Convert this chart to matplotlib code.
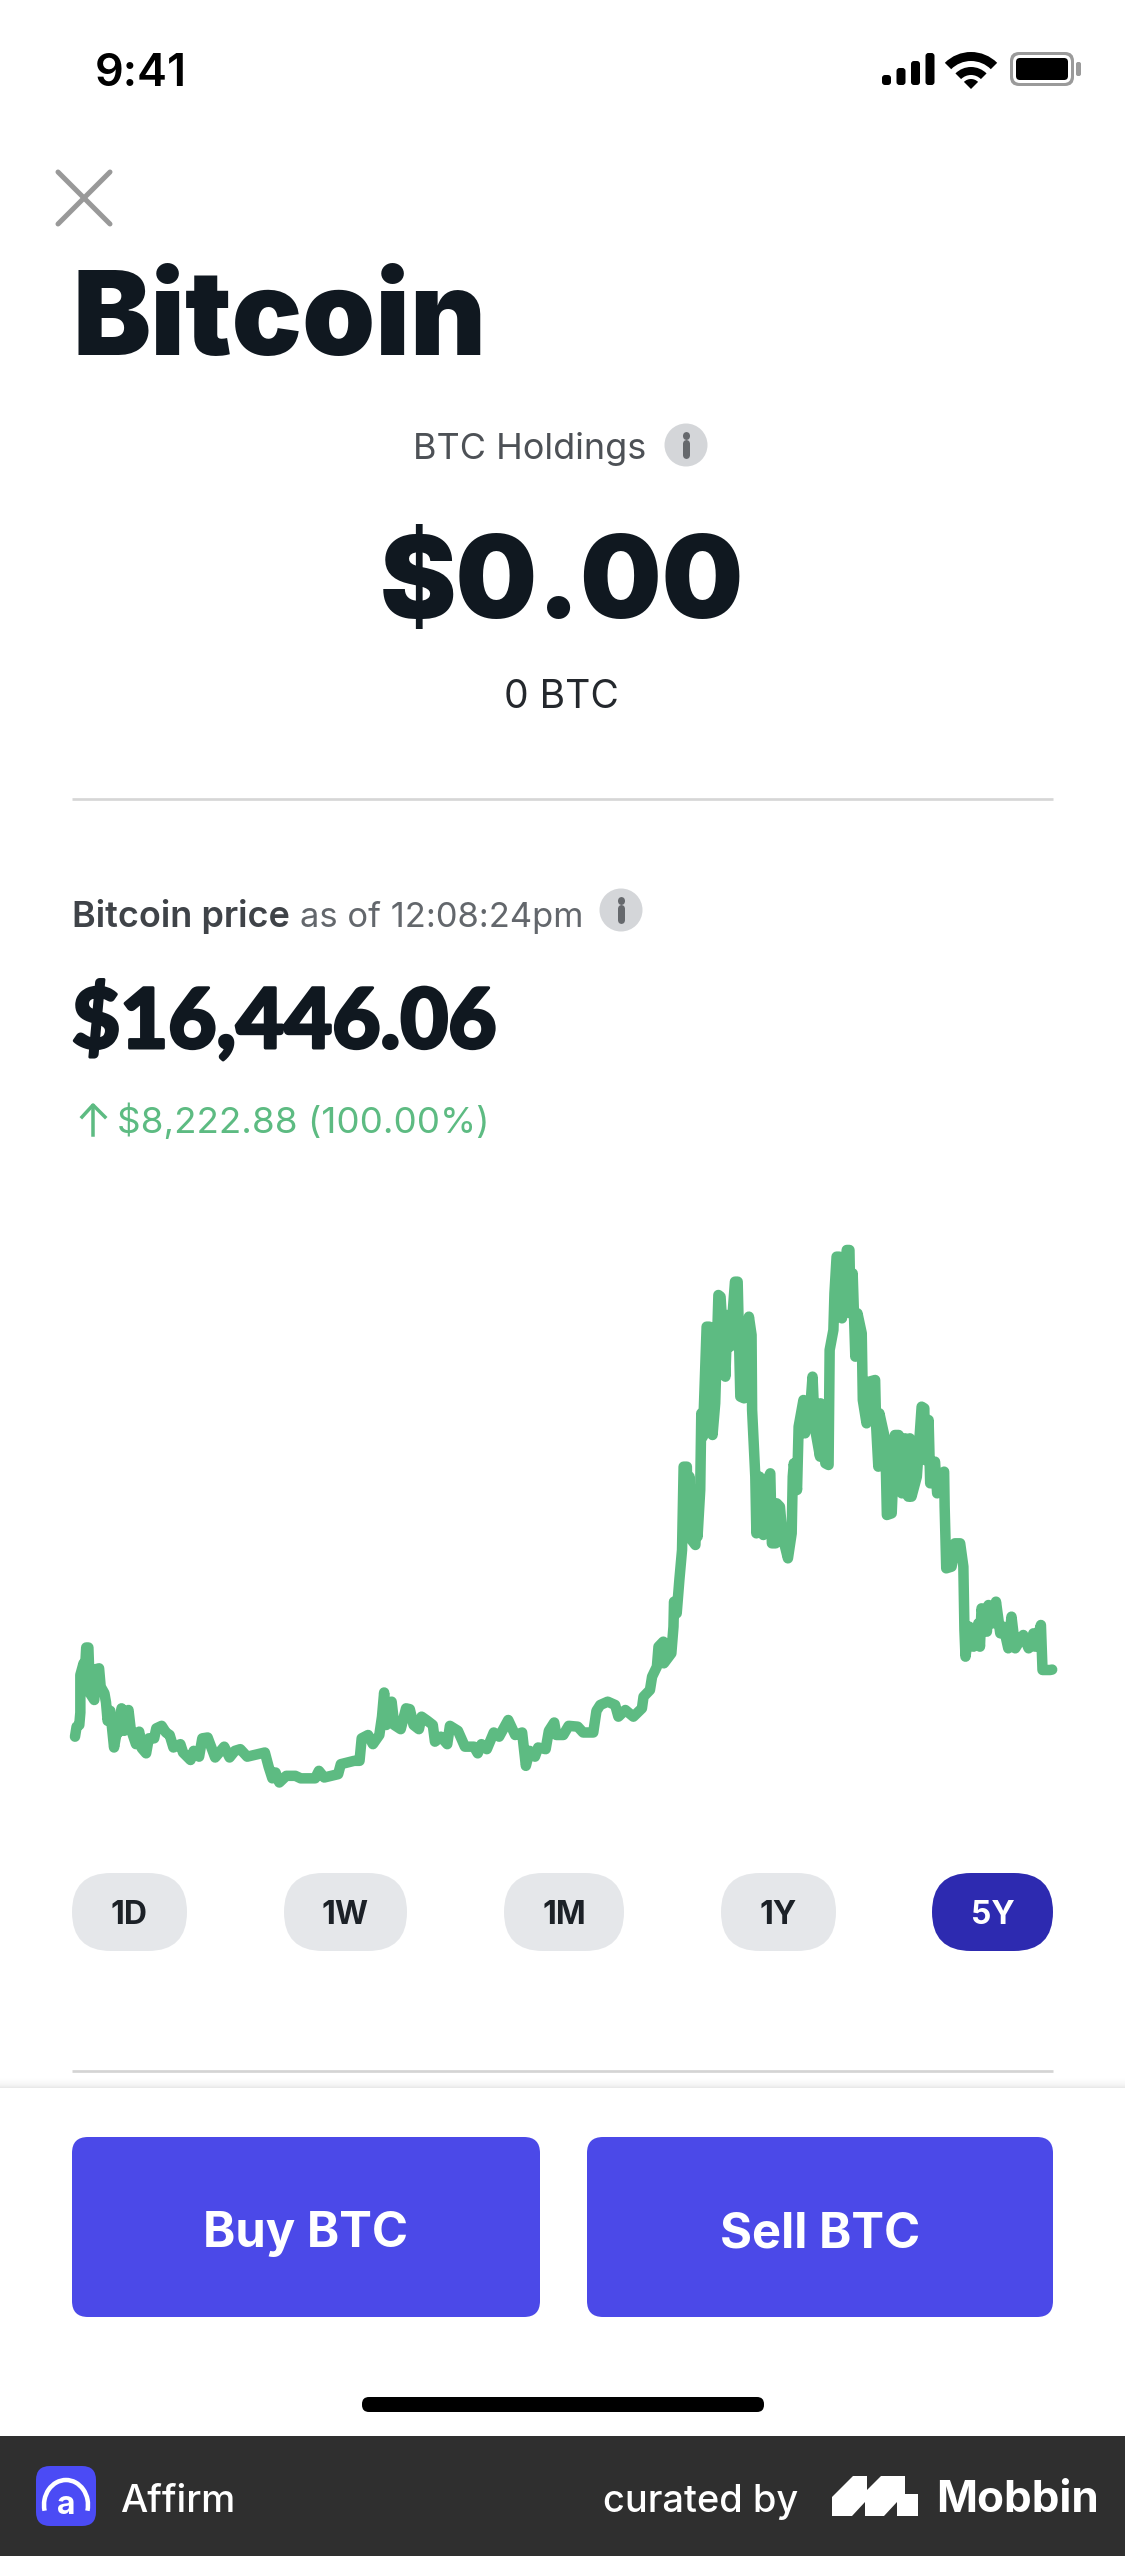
import matplotlib
matplotlib.use("Agg")
import matplotlib.pyplot as plt
import matplotlib.patheffects as pe
from matplotlib.patches import Circle, FancyBboxPatch, Polygon, Wedge, Arc

# Bitcoin price, 5Y view. days since start of range, price in thousand USD
days = [0, 3, 8, 10, 10, 16, 18, 21, 25, 28, 36, 39, 45, 48, 55, 58, 60, 61, 66, 73, 77, 81, 87, 92, 100, 104,
        114, 120, 125, 133, 138, 148, 152, 162, 170, 177, 184, 197, 202, 216, 222, 232, 238, 248, 262, 279, 289,
        299, 309, 322, 355, 362, 369, 375, 382, 395, 412, 422, 449, 456, 466, 492, 497, 522, 532, 536, 548, 557,
        569, 574, 578, 582, 592, 597, 609, 619, 626, 633, 643, 648, 659, 669, 673, 684, 696, 701, 716, 729, 746,
        753, 760, 770, 783, 793, 810, 823, 836, 843, 850, 860, 866, 880, 886, 896, 900, 913, 923, 940, 950, 969,
        975, 982, 996, 1010, 1016, 1029, 1044, 1060, 1063, 1075, 1079, 1088, 1091, 1100, 1101, 1115, 1119, 1120,
        1125, 1130, 1135, 1136, 1138, 1144, 1146, 1149, 1153, 1160, 1162, 1164, 1169, 1171, 1174, 1181, 1186,
        1192, 1197, 1203, 1207, 1216, 1220, 1225, 1234, 1239, 1244, 1251, 1260, 1265, 1266, 1272, 1274, 1280,
        1287, 1292, 1300, 1303, 1310, 1312, 1318, 1323, 1333, 1340, 1342, 1344, 1350, 1353, 1362, 1365, 1374,
        1379, 1383, 1393, 1394, 1403, 1409, 1411, 1418, 1420, 1424, 1429, 1434, 1443, 1448, 1450, 1454, 1459,
        1463, 1471, 1473, 1480, 1485, 1496, 1498, 1502, 1504, 1515, 1518, 1527, 1533, 1540, 1546, 1552, 1558,
        1561, 1564, 1574, 1583, 1588, 1589, 1596, 1599, 1608, 1612, 1625, 1626, 1629, 1639, 1645, 1655, 1661,
        1663, 1665, 1672, 1680, 1689, 1692, 1695, 1705, 1708, 1716, 1722, 1730, 1736, 1745, 1751, 1758, 1773,
        1783, 1792, 1795, 1806, 1809, 1823, 1827]
price_k = [8.4, 9.6, 9.8, 11.3, 15.8, 17.2, 15.6, 19.1, 19.1, 13.6, 12.8, 16.5, 16.6, 14.4, 13.6, 12.5, 11.0, 10.3,
           11.5, 7.1, 8.6, 8.9, 11.8, 9.1, 11.6, 9.4, 7.5, 9.0, 7.0, 6.4, 8.2, 8.2, 9.4, 9.7, 8.9, 8.6, 7.1, 7.5,
           6.5, 5.6, 6.7, 6.0, 8.2, 8.3, 5.9, 7.2, 5.9, 6.7, 6.9, 6.0, 6.5, 4.8, 3.4, 4.1, 2.9, 3.7, 3.7, 3.4, 3.4,
           4.3, 3.5, 3.9, 5.1, 5.5, 5.5, 8.2, 8.6, 7.5, 8.6, 10.8, 13.7, 9.8, 12.6, 9.8, 9.3, 11.8, 11.7, 9.8, 9.3,
           10.8, 10.3, 9.8, 7.8, 8.4, 7.5, 9.7, 9.1, 7.2, 7.2, 6.4, 7.5, 6.9, 8.9, 8.4, 10.4, 8.6, 8.9, 4.9, 6.7,
           6.0, 7.1, 6.9, 9.1, 10.1, 8.6, 8.6, 9.7, 9.6, 8.9, 8.9,
           11.5, 12.2, 12.6, 12.2, 10.8, 11.6, 10.8, 11.8, 13.2, 14.0, 15.6, 16.8, 19.2, 19.8, 17.2, 18.4, 21.6,
           24.6, 23.2, 27.2, 30.8, 34.0, 40.8, 40.8, 32.8, 39.6, 32.0, 31.4, 36.8, 32.4, 38.0, 47.2, 44.4, 57.6,
           57.6, 44.6, 48.4, 61.4, 61.2, 51.6, 59.0, 55.2, 63.0, 63.0, 49.2, 49.0, 58.8, 56.6, 47.6, 39.6, 32.8,
           39.6, 32.6, 38.8, 40.0, 31.6, 31.6, 36.4, 36.0, 32.4, 29.8, 32.8, 39.6, 41.2, 38.0, 45.6, 48.8, 44.8,
           47.2, 51.6, 45.6, 42.0, 48.4, 41.2, 41.0, 54.8, 57.2, 61.6, 66.0, 66.0, 58.6, 66.8, 66.8, 59.2, 64.0,
           54.0, 59.2, 56.8, 48.8, 46.0, 51.0, 51.2, 45.6, 40.8, 47.2, 44.0, 35.0, 35.2, 44.6, 44.6, 37.6, 44.2,
           37.2, 44.2, 37.2, 39.6, 48.0, 47.8, 41.6, 46.4, 38.8, 41.4, 37.6, 40.2, 36.0, 28.6, 28.8, 31.6, 31.6,
           28.8, 21.2, 18.0, 21.6, 19.2, 22.0, 19.2, 23.8, 21.0, 24.2, 22.0, 24.6, 20.8, 21.6, 19.0, 22.8, 19.0,
           20.6, 19.0, 20.8, 19.2, 21.8, 16.4, 16.4, 16.45]

range_labels = ["1D", "1W", "1M", "1Y", "5Y"]
range_left = [72, 284, 504, 721, 932]
range_right = [187, 407, 624, 836, 1053]

WIDTH, HEIGHT = 1125, 2556
GREEN = "#5dbb82"
INK = "#101820"
FONT = ["Inter", "Liberation Sans", "DejaVu Sans"]
plt.rcParams["font.family"] = FONT

fig = plt.figure(figsize=(WIDTH / 100, HEIGHT / 100), dpi=100, facecolor="white")

# full figure axes in pixels, for everything around the chart
ui = fig.add_axes([0, 0, 1, 1])
ui.set_xlim(0, WIDTH)
ui.set_ylim(HEIGHT, 0)
ui.axis("off")


def px(size):
    return size * 0.72


def label(x, y, s, size, color=INK, weight="normal", ha="left", va="baseline", **kw):
    return ui.text(x, y, s, fontsize=px(size), color=color, fontweight=weight, ha=ha, va=va, **kw)


def box(x0, y0, x1, y1, radius, color, z=2):
    ui.add_patch(FancyBboxPatch((x0 + radius, y0 + radius), x1 - x0 - 2 * radius, y1 - y0 - 2 * radius,
                                boxstyle=f"round,pad={radius}", fc=color, ec="none", zorder=z))


def info_icon(cx, cy):
    ui.add_patch(Circle((cx, cy), 21.5, fc="#d4d6d9", ec="none"))
    ui.plot([cx, cx], [cy - 2, cy + 10], color="#66696d", lw=px(7), solid_capstyle="round")
    ui.plot([cx, cx], [cy - 10, cy - 9], color="#66696d", lw=px(7), solid_capstyle="round")


# status bar
label(95, 86, "9:41", 45, color="black", weight="semibold")
bar_tops = [75, 68, 61, 53]
for i, top in enumerate(bar_tops):
    box(882 + i * 14.5, top, 891 + i * 14.5, 85, 3, "black")
for r0, r1 in [(37, 28), (22, 14)]:
    ui.add_patch(Wedge((971, 89), r0, 225, 315, width=r0 - r1, fc="black", ec="none"))
ui.add_patch(Wedge((971, 89), 10, 225, 315, fc="black", ec="none"))
box(1010, 52, 1074, 86, 9, "#9a9a9a")
box(1013, 55, 1071, 83, 7, "white")
box(1016, 58, 1068, 80, 4, "black")
box(1076, 62, 1081, 76, 2, "#9a9a9a")

# close button
ui.plot([58, 110], [172, 224], color="#999999", lw=px(5), solid_capstyle="round")
ui.plot([58, 110], [224, 172], color="#999999", lw=px(5), solid_capstyle="round")

# header
label(73, 355, "Bitcoin", 117, weight=900)
label(530, 459, "BTC Holdings", 36, color="#4d5156", ha="center")
info_icon(686, 445)
label(562, 618, "$0.00", 115, weight=900, ha="center")
label(561, 708, "0 BTC", 39, color="#24282d", ha="center")
ui.plot([72, 1053], [799, 799], color="#d6d6d6", lw=px(2.7), solid_capstyle="butt")

# price block
label(72, 927, "Bitcoin price", 36, color="#3f4348", weight="semibold")
label(300, 927, "as of 12:08:24pm", 34.5, color="#63676c")
info_icon(621, 910)
big_price = label(72, 1048, "$16,446.06", 83, weight=900, family=["Lato", "DejaVu Sans"])
big_price.set_path_effects([pe.withStroke(linewidth=px(3), foreground=INK)])
label(117, 1133, "$8,222.88 (100.00%)", 36.8, color=GREEN)
ui.plot([93, 93], [1106, 1135], color=GREEN, lw=px(3.5))
ui.plot([82, 93, 105], [1117, 1105, 1117], color=GREEN, lw=px(3.5))

# range selector
for name, x0, x1 in zip(range_labels, range_left, range_right):
    selected = name == "5Y"
    box(x0, 1873, x1, 1951, 39, "#2d2ab0" if selected else "#e5e7ea")
    label((x0 + x1) / 2, 1924, name, 32, color="white" if selected else "#1c2127", weight="bold", ha="center", zorder=3)

ui.plot([72, 1053], [2071, 2071], color="#d4d4d4", lw=px(2.7), solid_capstyle="butt")

# bottom sheet, with its soft shadow on top
shadow = [0.004, 0.008, 0.012, 0.018, 0.024, 0.032, 0.04, 0.05, 0.065, 0.085]
for k, alpha in enumerate(shadow):
    ui.fill_between([0, WIDTH], 2078 + k, 2079 + k, color="black", alpha=alpha, lw=0)
box(72, 2137, 540, 2317, 16, "#4b49e8")
box(587, 2137, 1053, 2317, 16, "#4b49e8")
label(306, 2247, "Buy BTC", 49, color="white", weight="bold", ha="center", zorder=3)
label(820, 2247, "Sell BTC", 49, color="white", weight="bold", ha="center", zorder=3)
box(362, 2397, 764, 2412, 7, "black")

# footer
ui.fill_between([0, WIDTH], 2436, HEIGHT, color="#2f2f2f", lw=0)
box(36, 2466, 96, 2526, 14, "#4b4bf5", z=3)
ui.add_patch(Arc((66, 2505), 44, 50, theta1=165, theta2=375, ec="white", lw=px(4.5), zorder=4))
label(66, 2514, "a", 32, color="white", weight="bold", ha="center", zorder=4)
label(120, 2512, "Affirm", 38.5, color="white", weight="medium")
label(603, 2512, "curated by", 38, color="white", weight="medium")
ui.add_patch(Polygon([(832, 2516), (832, 2497), (853, 2476), (867, 2476), (867, 2490), (881, 2476), (905, 2476),
                      (905, 2494), (918, 2494), (918, 2516), (897, 2516), (897, 2502), (884, 2516), (865, 2516),
                      (865, 2502), (852, 2516)], fc="white", ec="none", zorder=3))
label(936, 2512, "Mobbin", 44, color="white", weight="bold")

# the chart itself
ax = fig.add_axes([75 / WIDTH, 1 - 1790 / HEIGHT, (1050 - 75) / WIDTH, 550 / HEIGHT])
ax.patch.set_alpha(0)
ax.plot(days, price_k, color=GREEN, lw=px(10.5), solid_joinstyle="round", solid_capstyle="round", clip_on=False)
ax.set_xlim(0, 1823)
ax.set_ylim(2, 68)
ax.axis("off")

fig.savefig("out.png", dpi=100)
